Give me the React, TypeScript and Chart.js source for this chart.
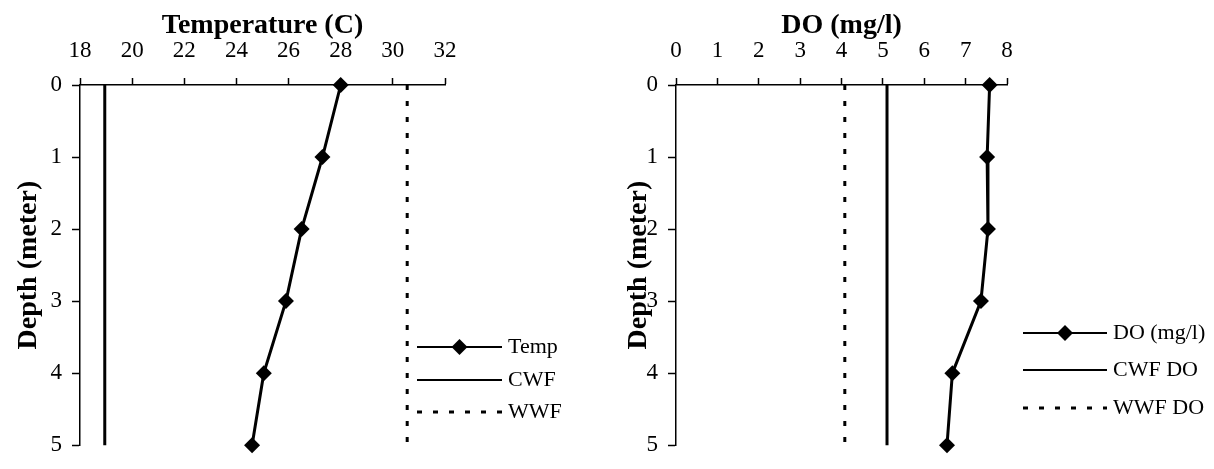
import React, { useEffect, useRef } from "react";
import { Chart, registerables } from "chart.js";

Chart.register(...registerables);

// ---- Data ----
const depths = [0, 1, 2, 3, 4, 5];
const tempValues = [28.0, 27.3, 26.5, 25.9, 25.05, 24.6];
const cwfTemp = 18.95;
const wwfTemp = 30.55;
const doValues = [7.58, 7.52, 7.54, 7.37, 6.68, 6.55];
const cwfDO = 5.1;
const wwfDO = 4.08;
const tempTicks = [18, 20, 22, 24, 26, 28, 30, 32];
const doTicks = [0, 1, 2, 3, 4, 5, 6, 7, 8];
const depthTicks = [0, 1, 2, 3, 4, 5];
const tempLabels = ["Temp", "CWF", "WWF"];
const doLabels = ["DO (mg/l)", "CWF DO", "WWF DO"];
const tempTitle = "Temperature (C)";
const doTitle = "DO (mg/l)";
const depthTitle = "Depth (meter)";

const FONT = "'Liberation Serif', 'Times New Roman', serif";
const DASH = [5, 11];

const manualLegend = {
  id: "manualLegend",
  afterDraw(chart: any, _args: any, opts: any) {
    if (!opts || !opts.ys) return;
    const ctx = chart.ctx;
    ctx.save();
    chart.data.datasets.forEach((ds: any, i: number) => {
      const y = opts.ys[i];
      ctx.beginPath();
      ctx.setLineDash(ds.borderDash || []);
      ctx.lineWidth = ds.borderDash ? 3 : 2;
      ctx.strokeStyle = "#000";
      ctx.moveTo(opts.x, y);
      ctx.lineTo(opts.x + opts.lineLen, y);
      ctx.stroke();
      ctx.setLineDash([]);
      if (ds.pointRadius > 0) {
        const cx = opts.x + opts.lineLen / 2;
        const r = ds.pointRadius;
        ctx.beginPath();
        ctx.moveTo(cx - r, y);
        ctx.lineTo(cx, y - r);
        ctx.lineTo(cx + r, y);
        ctx.lineTo(cx, y + r);
        ctx.closePath();
        ctx.fillStyle = "#000";
        ctx.fill();
      }
      ctx.fillStyle = "#000";
      ctx.font = `22px ${FONT}`;
      ctx.textAlign = "left";
      ctx.textBaseline = "middle";
      ctx.fillText(ds.label, opts.x + opts.lineLen + opts.gap, y);
    });
    ctx.restore();
  },
};

function buildConfig(p: {
  values: number[];
  cwf: number;
  wwf: number;
  labels: string[];
  xTicks: number[];
  title: string;
  yWidth: number;
  yTitlePad: number;
  padding: any;
  legend: any;
}) {
  const first = depthTicks[0];
  const last = depthTicks[depthTicks.length - 1];
  return {
    type: "scatter" as const,
    data: {
      datasets: [
        {
          label: p.labels[0],
          data: depths.map((d, i) => ({ x: p.values[i], y: d })),
          showLine: true,
          borderColor: "#000",
          backgroundColor: "#000",
          borderWidth: 3,
          pointStyle: "rectRot",
          pointRadius: 8,
          pointBorderWidth: 0,
          pointBackgroundColor: "#000",
          clip: false,
        },
        {
          label: p.labels[1],
          data: [
            { x: p.cwf, y: first },
            { x: p.cwf, y: last },
          ],
          showLine: true,
          borderColor: "#000",
          borderWidth: 3,
          pointRadius: 0,
          clip: false,
        },
        {
          label: p.labels[2],
          data: [
            { x: p.wwf, y: first },
            { x: p.wwf, y: last },
          ],
          showLine: true,
          borderColor: "#000",
          borderWidth: 3,
          borderDash: DASH,
          pointRadius: 0,
          clip: false,
        },
      ],
    },
    options: {
      animation: false,
      responsive: false,
      layout: { padding: p.padding },
      plugins: {
        legend: { display: false },
        tooltip: { enabled: false },
        manualLegend: p.legend,
      },
      scales: {
        x: {
          type: "linear",
          position: "top",
          min: p.xTicks[0],
          max: p.xTicks[p.xTicks.length - 1],
          afterBuildTicks: (s: any) => {
            s.ticks = p.xTicks.map((v) => ({ value: v }));
          },
          afterFit: (s: any) => {
            s.height = 85;
          },
          grid: {
            display: true,
            drawOnChartArea: false,
            drawTicks: true,
            tickLength: 7,
            tickWidth: 1.5,
            color: "#000",
          },
          border: { display: true, color: "#000", width: 1.5 },
          ticks: {
            color: "#000",
            padding: 13,
            maxRotation: 0,
            font: { family: FONT, size: 23, lineHeight: 1.2 },
          },
          title: {
            display: true,
            text: p.title,
            color: "#000",
            font: { family: FONT, size: 28, weight: "bold", lineHeight: 1 },
            padding: { top: 12, bottom: 0 },
          },
        },
        y: {
          type: "linear",
          reverse: true,
          min: first,
          max: last,
          afterBuildTicks: (s: any) => {
            s.ticks = depthTicks.map((v) => ({ value: v }));
          },
          afterFit: (s: any) => {
            s.width = p.yWidth;
          },
          grid: {
            display: true,
            drawOnChartArea: false,
            drawTicks: true,
            tickLength: 8,
            tickWidth: 1.5,
            color: "#000",
          },
          border: { display: true, color: "#000", width: 1.5 },
          ticks: {
            color: "#000",
            padding: 10,
            font: { family: FONT, size: 23, lineHeight: 1.2 },
          },
          title: {
            display: true,
            text: depthTitle,
            color: "#000",
            font: { family: FONT, size: 28, weight: "bold", lineHeight: 1 },
            padding: { top: p.yTitlePad, bottom: 0 },
          },
        },
      },
    },
    plugins: [manualLegend],
  };
}

function ChartCanvas(props: { config: any; left: number; width: number }) {
  const ref = useRef<HTMLCanvasElement | null>(null);
  useEffect(() => {
    if (!ref.current) return;
    const chart = new Chart(ref.current, props.config);
    return () => chart.destroy();
  }, []);
  return (
    <canvas
      ref={ref}
      width={props.width}
      height={469}
      style={{
        position: "absolute",
        left: props.left,
        top: 0,
        width: props.width,
        height: 469,
      }}
    />
  );
}

export default function App() {
  const tempConfig = buildConfig({
    values: tempValues,
    cwf: cwfTemp,
    wwf: wwfTemp,
    labels: tempLabels,
    xTicks: tempTicks,
    title: tempTitle,
    yWidth: 80,
    yTitlePad: 15,
    padding: { left: 0, top: 0, right: 169, bottom: 10 },
    legend: { x: 417, ys: [347, 380, 412], lineLen: 85, gap: 6 },
  });
  const doConfig = buildConfig({
    values: doValues,
    cwf: cwfDO,
    wwf: wwfDO,
    labels: doLabels,
    xTicks: doTicks,
    title: doTitle,
    yWidth: 62,
    yTitlePad: 11,
    padding: { left: 0, top: 0, right: 207, bottom: 13 },
    legend: { x: 409, ys: [333, 370, 408], lineLen: 84, gap: 6 },
  });
  return (
    <div
      style={{
        position: "absolute",
        left: 0,
        top: 0,
        width: 1214,
        height: 469,
        background: "#fff",
      }}
    >
      <ChartCanvas config={tempConfig} left={0} width={614} />
      <ChartCanvas config={doConfig} left={614} width={600} />
    </div>
  );
}
